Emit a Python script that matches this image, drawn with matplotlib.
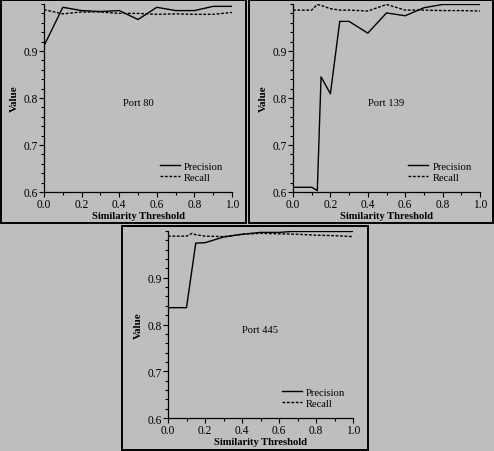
import matplotlib
matplotlib.use("Agg")
import matplotlib.pyplot as plt
from matplotlib.patches import Rectangle
from matplotlib.ticker import MultipleLocator

plt.rcParams['font.family'] = ['Liberation Serif', 'DejaVu Serif']

# Data
p80_x = [0.0, 0.1, 0.2, 0.3, 0.4, 0.5, 0.6, 0.7, 0.8, 0.9, 1.0]
p80_prec = [0.911, 0.993, 0.986, 0.984, 0.986, 0.967, 0.993, 0.986, 0.986, 0.995, 0.995]
p80_rec = [0.988, 0.979, 0.983, 0.983, 0.980, 0.980, 0.978, 0.979, 0.978, 0.978, 0.982]

p139_px = [0.0, 0.1, 0.13, 0.15, 0.2, 0.25, 0.3, 0.4, 0.5, 0.6, 0.7, 0.8, 0.9, 1.0]
p139_prec = [0.610, 0.610, 0.603, 0.845, 0.809, 0.963, 0.963, 0.938, 0.981, 0.975, 0.992, 0.999, 0.999, 0.999]
p139_rx = [0.0, 0.1, 0.13, 0.15, 0.2, 0.25, 0.3, 0.4, 0.5, 0.6, 0.7, 0.8, 0.9, 1.0]
p139_rec = [0.987, 0.987, 0.999, 0.997, 0.990, 0.987, 0.987, 0.985, 0.999, 0.987, 0.987, 0.986, 0.986, 0.985]

p445_px = [0.0, 0.1, 0.15, 0.2, 0.3, 0.4, 0.5, 0.6, 0.67, 0.8, 0.9, 1.0]
p445_prec = [0.836, 0.836, 0.974, 0.975, 0.987, 0.993, 0.997, 0.997, 0.999, 0.999, 0.999, 0.999]
p445_rx = [0.0, 0.1, 0.13, 0.15, 0.2, 0.3, 0.4, 0.5, 0.6, 0.7, 0.8, 0.9, 1.0]
p445_rec = [0.989, 0.989, 0.995, 0.992, 0.989, 0.988, 0.993, 0.995, 0.994, 0.993, 0.991, 0.990, 0.988]

panels = [
    ("Port 80", p80_x, p80_prec, p80_x, p80_rec),
    ("Port 139", p139_px, p139_prec, p139_rx, p139_rec),
    ("Port 445", p445_px, p445_prec, p445_rx, p445_rec),
]

W, H = 494, 452
BG = '#bebebe'
fig = plt.figure(figsize=(W / 100, H / 100), dpi=100, facecolor=BG)

# (box left, top, right, bottom), (axes left, top, right, bottom) in pixels
layout = [
    ((1, 1, 246, 224), (44, 5, 232, 193)),
    ((249, 1, 493, 224), (293, 5, 480, 193)),
    ((122, 227, 368, 451), (168, 232, 353, 419)),
]

FS = 7.6
for (name, px, prec, rx, rec), (box, ax_px) in zip(panels, layout):
    bl, bt, br, bb = box
    fig.add_artist(Rectangle((bl / W, 1 - bb / H), (br - bl) / W, (bb - bt) / H,
                             transform=fig.transFigure, fill=False,
                             edgecolor='black', linewidth=1.4))
    al, at, ar, ab = ax_px
    ax = fig.add_axes([al / W, 1 - ab / H, (ar - al) / W, (ab - at) / H])
    ax.set_facecolor('none')
    ax.plot(px, prec, color='black', linewidth=1.0, label='Precision')
    ax.plot(rx, rec, color='black', linewidth=1.0, linestyle=(0, (2, 1.2)), label='Recall')
    ax.set_xlim(0, 1.0)
    ax.set_ylim(0.6, 1.0)
    ax.set_xticks([0.0, 0.2, 0.4, 0.6, 0.8, 1.0])
    ax.set_yticks([0.6, 0.7, 0.8, 0.9])
    ax.xaxis.set_minor_locator(MultipleLocator(0.1))
    ax.yaxis.set_minor_locator(MultipleLocator(0.02))
    ax.tick_params(which='major', direction='out', length=3.5, width=0.8, labelsize=8.3, pad=0.5)
    ax.tick_params(which='minor', direction='out', length=2, width=0.8)
    for s in ['top', 'right']:
        ax.spines[s].set_visible(False)
    for s in ['left', 'bottom']:
        ax.spines[s].set_linewidth(0.9)
    ax.set_xlabel('Similarity Threshold', fontsize=FS, fontweight='bold', labelpad=1)
    ax.set_ylabel('Value', fontsize=FS + 0.4, fontweight='bold', labelpad=3.5)
    ax.text(0.5, 0.79, name, fontsize=FS, ha='center', va='center')
    ax.legend(loc='lower left', bbox_to_anchor=(0.615, 0.055), frameon=False, fontsize=FS,
              handlelength=1.9, handletextpad=0.4, labelspacing=0.12, borderpad=0.0,
              borderaxespad=0.0)

fig.savefig('out.png', dpi=100, facecolor=BG)
